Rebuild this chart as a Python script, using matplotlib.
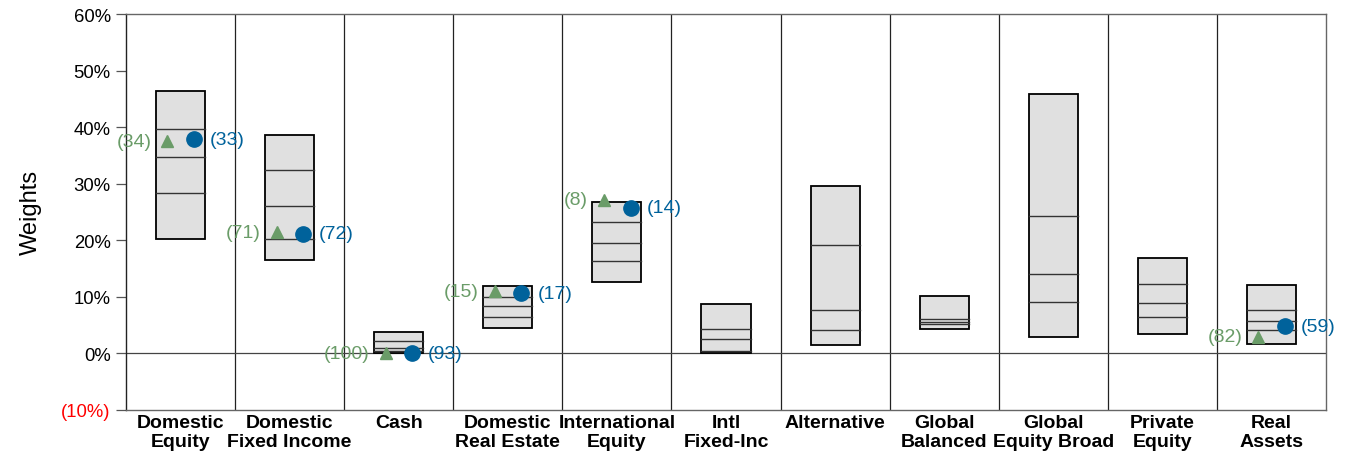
import numpy as np
import matplotlib
matplotlib.use("Agg")
import matplotlib.pyplot as plt
from matplotlib.patches import Rectangle

plt.rcParams['font.family'] = ['Liberation Sans', 'DejaVu Sans']

# asset classes along the x axis
categories = ['Domestic\nEquity', 'Domestic\nFixed Income', 'Cash', 'Domestic\nReal Estate',
              'International\nEquity', 'Intl\nFixed-Inc', 'Alternative', 'Global\nBalanced',
              'Global\nEquity Broad', 'Private\nEquity', 'Real\nAssets']

# percentile ranges (%): 10th, 25th, median, 75th, 90th
p10 = [20.1, 16.5, 0.0, 4.4, 12.6, 0.0, 1.5, 4.2, 2.9, 3.4, 1.6]
p25 = [28.3, 20.2, 0.3, 6.3, 16.3, 0.4, 4.1, 5.1, 9.1, 6.3, 4.1]
p50 = [34.7, 26.1, 0.8, 8.4, 19.5, 2.4, 7.7, 5.5, 14.0, 8.9, 5.7]
p75 = [39.7, 32.4, 2.1, 10.0, 23.1, 4.2, 19.1, 6.1, 24.2, 12.2, 7.7]
p90 = [46.3, 38.5, 3.8, 11.9, 26.7, 8.7, 29.5, 10.1, 45.9, 16.8, 12.0]

# the two highlighted portfolios (None = not held) and their percentile ranks
tri_vals = [37.5, 21.4, 0.0, 10.9, 27.1, None, None, None, None, None, 2.9]
tri_ranks = [34, 71, 100, 15, 8, None, None, None, None, None, 82]
dot_vals = [37.8, 21.1, 0.0, 10.6, 25.7, None, None, None, None, None, 4.7]
dot_ranks = [33, 72, 93, 17, 14, None, None, None, None, None, 59]

y_ticks = [-10, 0, 10, 20, 30, 40, 50, 60]

GREEN = '#6a9c68'
BLUE = '#00629b'
BOX_W = 0.45


def pct_label(v):
    if v < 0:
        return '(%d%%)' % abs(v)
    return '%d%%' % v


fig = plt.figure(figsize=(13.48, 4.52), dpi=100)
ax = fig.add_axes([0.0935, 0.0918, 0.8902, 0.875])

n = len(categories)
x = np.arange(n)

for i in range(n):
    ax.add_patch(Rectangle((x[i] - BOX_W / 2, p10[i]), BOX_W, p90[i] - p10[i],
                           facecolor='#e0e0e0', edgecolor='black', linewidth=1.3, zorder=3))
    for v in (p25[i], p50[i], p75[i]):
        ax.plot([x[i] - BOX_W / 2, x[i] + BOX_W / 2], [v, v], color='#333333', lw=1.0, zorder=4)

# column dividers and zero line
for k in range(n - 1):
    ax.axvline(k + 0.5, color='#222222', lw=0.9, zorder=1)
ax.axhline(0, color='#444444', lw=0.9, zorder=2)

for i in range(n):
    if tri_vals[i] is not None:
        ax.plot(x[i] - 0.12, tri_vals[i], marker='^', color=GREEN, markersize=9,
                linestyle='none', zorder=5)
        ax.text(x[i] - 0.265, tri_vals[i], '(%d)' % tri_ranks[i], color=GREEN,
                fontsize=14, ha='right', va='center', zorder=6)
    if dot_vals[i] is not None:
        ax.plot(x[i] + 0.125, dot_vals[i], marker='o', color=BLUE, markersize=11,
                linestyle='none', zorder=5)
        ax.text(x[i] + 0.27, dot_vals[i], '(%d)' % dot_ranks[i], color=BLUE,
                fontsize=14, ha='left', va='center', zorder=6)

ax.set_xlim(-0.5, n - 0.5)
ax.set_ylim(-10, 60)
ax.set_xticks(x)
ax.set_xticklabels(categories, fontsize=14, fontweight='bold', linespacing=1.15)
ax.tick_params(axis='x', length=0, pad=3)
ax.set_yticks(y_ticks)
ax.set_yticklabels([pct_label(v) for v in y_ticks], fontsize=13.3)
ax.tick_params(axis='y', length=7, width=0.9, color='#555555', pad=4)
for lbl, v in zip(ax.get_yticklabels(), y_ticks):
    if v < 0:
        lbl.set_color('red')

ax.set_ylabel('Weights', fontsize=17, labelpad=14)

ax.spines['left'].set_color('#222222')
for s in ('top', 'right', 'bottom'):
    ax.spines[s].set_color('#666666')
for s in ax.spines.values():
    s.set_linewidth(1.0)

fig.savefig('out.png', dpi=100)
